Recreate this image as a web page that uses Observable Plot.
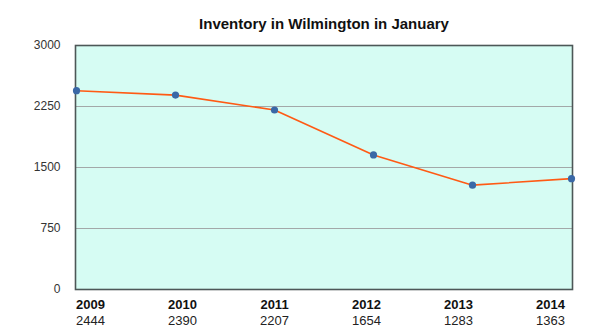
<!DOCTYPE html>
<html>
<head>
<meta charset="utf-8">
<script src="https://cdn.jsdelivr.net/npm/d3@7"></script>
<script src="https://cdn.jsdelivr.net/npm/@observablehq/plot@0.6"></script>
<style>
  html, body { margin: 0; padding: 0; background: #fff; }
  body { width: 600px; height: 333px; overflow: hidden; font-family: "Liberation Sans", Arial, Helvetica, sans-serif; }
  #title { width: 600px; box-sizing: border-box; padding-left: 48px; padding-top: 14px; height: 34px; line-height: 20px; text-align: center; font-weight: bold; font-size: 15px; color: #111; }
  svg { display: block; }
</style>
</head>
<body>
<div id="title">Inventory in Wilmington in January</div>
<div id="chart"></div>
<div id="labels"></div>
<script>
const years = ["2009", "2010", "2011", "2012", "2013", "2014"];
const inventory = [2444, 2390, 2207, 1654, 1283, 1363];
const yTicks = [0, 750, 1500, 2250, 3000];
const gridTicks = [750, 1500, 2250];

const data = years.map((y, i) => ({year: y, value: inventory[i]}));

const chart = Plot.plot({
  width: 600,
  height: 262,
  marginTop: 11,
  marginBottom: 7,
  marginLeft: 75,
  marginRight: 28,
  style: {fontFamily: "Liberation Sans, Arial, sans-serif", fontSize: "12px", color: "#333", background: "transparent"},
  x: {type: "point", domain: years, range: [75, 572], padding: 0, axis: null},
  y: {domain: [0, 3000], ticks: yTicks, tickSize: 0, tickPadding: 15, label: null},
  marks: [
    Plot.frame({fill: "#d6fcf3"}),
    Plot.ruleY(gridTicks, {stroke: "#a3a8a8", strokeWidth: 1.2}),
    Plot.frame({stroke: "#4d5757", strokeWidth: 1.6}),
    Plot.axisY({ticks: yTicks, tickFormat: d => String(d), tickSize: 0, tickPadding: 15, fontSize: 12, fill: "#333"}),
    Plot.line(data, {x: "year", y: "value", stroke: "#ff5a14", strokeWidth: 1.6}),
    Plot.dot(data, {x: "year", y: "value", r: 3.6, fill: "#3a68a6", stroke: "none"})
  ]
});
document.getElementById("chart").appendChild(chart);

const labels = Plot.plot({
  width: 600,
  height: 37,
  margin: 0,
  style: {fontFamily: "Liberation Sans, Arial, sans-serif", background: "transparent"},
  x: {type: "point", domain: years, range: [88, 552], padding: 0, axis: null},
  marks: [
    Plot.text(data, {x: "year", text: "year", frameAnchor: "top", dy: 8, lineAnchor: "middle", fontWeight: "bold", fontSize: 13, fill: "#111"}),
    Plot.text(data, {x: "year", text: d => String(d.value), frameAnchor: "top", dy: 24, lineAnchor: "middle", fontSize: 13, fill: "#222"})
  ]
});
document.getElementById("labels").appendChild(labels);
</script>
</body>
</html>
